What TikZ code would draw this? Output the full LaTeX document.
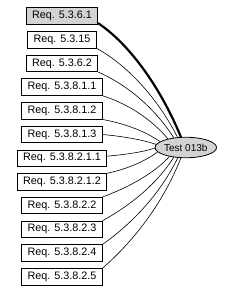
\documentclass[tikz,border=0pt]{standalone}
\usepackage{fontspec}
\setmainfont{Liberation Sans}
\usetikzlibrary{shapes.geometric}
\definecolor{nodegray}{RGB}{211,211,211}
\tikzset{
  reqbox/.style={draw=black, line width=0.8pt, fill=white, rectangle, inner xsep=5.8pt, inner ysep=0pt,
    minimum height=16.5pt, font=\fontsize{10.8}{12}\selectfont},
  testnode/.style={draw=black, line width=0.8pt, fill=nodegray, ellipse, inner sep=0pt,
    minimum width=61.5pt, minimum height=20.5pt, font=\fontsize{10}{12}\selectfont},
  link/.style={draw=black, line width=0.6pt},
  boldlink/.style={draw=black, line width=2.2pt}
}
\begin{document}
\begin{tikzpicture}[x=1pt, y=-1pt]
\useasboundingbox (0,0) rectangle (233,295);
\node[reqbox, fill=nodegray] (b1) at (62,16) {Req. 5.3.6.1};
\node[reqbox] (b2) at (62,39.7) {Req. 5.3.15};
\node[reqbox] (b3) at (62,63.4) {Req. 5.3.6.2};
\node[reqbox] (b4) at (62,87.1) {Req. 5.3.8.1.1};
\node[reqbox] (b5) at (62,110.8) {Req. 5.3.8.1.2};
\node[reqbox] (b6) at (62,134.5) {Req. 5.3.8.1.3};
\node[reqbox] (b7) at (62,158.2) {Req. 5.3.8.2.1.1};
\node[reqbox] (b8) at (62,181.9) {Req. 5.3.8.2.1.2};
\node[reqbox] (b9) at (62,205.6) {Req. 5.3.8.2.2};
\node[reqbox] (b10) at (62,229.3) {Req. 5.3.8.2.3};
\node[reqbox] (b11) at (62,253) {Req. 5.3.8.2.4};
\node[reqbox] (b12) at (62,276.7) {Req. 5.3.8.2.5};
\node[testnode] (t) at (185.8,147.5) {Test 013b};

\draw[boldlink] ([yshift=1.5pt]b1.south east) .. controls +(33.7,22.6) and +(-18.5,-45.3) .. (t.115.6);
\draw[link] (b2.south east) .. controls +(32.9,18) and +(-18.1,-36) .. (t.129.4);
\draw[link] (b3.south east) .. controls +(31.1,13.5) and +(-17.1,-27) .. (t.141.8);
\draw[link] (b4.south east) .. controls +(27.9,9) and +(-15.3,-18) .. (t.154);
\draw[link] (b5.south east) .. controls +(24.7,4.7) and +(-13.6,-9.4) .. (t.167.6);
\draw[link] (b6.east) .. controls +(22.7,2.1) and +(-12.5,-4.2) .. (t.174.9);
\draw[link] ([yshift=2pt]b7.east) .. controls +(19.6,-1.9) and +(-10.8,3.9) .. (t.181.9);
\draw[link] (b8.north east) .. controls +(20.5,-4.3) and +(-11.3,8.7) .. (t.189);
\draw[link] (b9.north east) .. controls +(27.5,-10.2) and +(-15.1,16.3) .. (t.209.7);
\draw[link] (b10.north east) .. controls +(29.1,-16) and +(-16,25.5) .. (t.219.4);
\draw[link] (b11.north east) .. controls +(30.7,-21.8) and +(-16.9,34.9) .. (t.232.3);
\draw[link] (b12.north east) .. controls +(31.9,-27.7) and +(-17.5,44.3) .. (t.245);
\end{tikzpicture}
\end{document}
